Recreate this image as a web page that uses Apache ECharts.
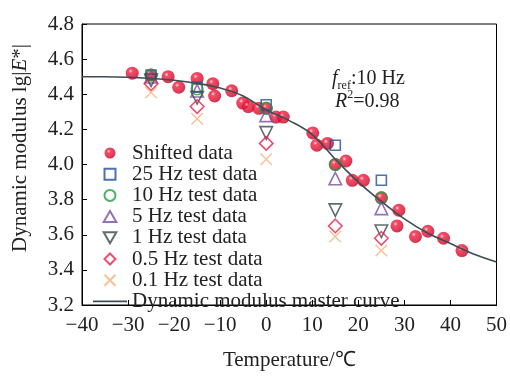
<!DOCTYPE html>
<html>
<head>
<meta charset="utf-8">
<script src="https://cdn.jsdelivr.net/npm/echarts@6/dist/echarts.min.js"></script>
<style>
  html, body { margin: 0; padding: 0; background: #fff; }
  #chart { width: 510px; height: 376px; }
</style>
</head>
<body>
<div id="chart"></div>
<script>
// Test temperatures (°C) at which every frequency was measured
const testTemps = [-25, -15, 0, 15, 25];

// Dynamic modulus lg|E*| per test frequency
const hz25 = [4.51, 4.44, 4.34, 4.11, 3.91];
const hz10 = [4.51, 4.43, 4.32, 4.00, 3.81];
const hz5 = [4.50, 4.42, 4.28, 3.92, 3.75];
const hz1 = [4.48, 4.38, 4.18, 3.74, 3.62];
const hz05 = [4.46, 4.33, 4.12, 3.65, 3.58];
const hz01 = [4.41, 4.26, 4.03, 3.59, 3.51];

// Data shifted to the 10 Hz reference frequency
const shiftedTemps = [-29.1, -25, -21.3, -19.0, -15.0, -11.6, -11.2, -7.5, -5.1, -3.9, -1.6, 0, 2.1, 3.7,
  10.1, 11.0, 13.3, 15, 17.3, 18.7, 21.1, 25, 28.8, 28.4, 32.4, 35.1, 38.5, 42.5];
const shiftedModulus = [4.52, 4.51, 4.50, 4.44, 4.49, 4.46, 4.39, 4.42, 4.35, 4.33, 4.32, 4.32, 4.27, 4.27,
  4.18, 4.11, 4.12, 4.00, 4.02, 3.91, 3.91, 3.81, 3.74, 3.65, 3.59, 3.62, 3.58, 3.51];

// Fitted master curve
const curveTemps = [-40, -35, -30, -25, -20, -15, -10, -5, 0, 5, 10, 15, 20, 25, 30, 35, 40, 45, 50];
const curveModulus = [4.50, 4.50, 4.497, 4.49, 4.48, 4.462, 4.435, 4.39, 4.31, 4.25, 4.17, 4.03, 3.90,
  3.79, 3.69, 3.61, 3.55, 3.49, 3.445];

// Axis ticks
const xTicks = { min: -40, max: 50, step: 10 };
const yTicks = { min: 3.2, max: 4.8, step: 0.2 };

const FONT = 'Liberation Serif';
const INK = '#222';
const CURVE = '#404c54';
const zip = (xs, ys) => xs.map((x, i) => [x, ys[i]]);

const SYM = {
  circle: 'path://M12,6A6,6,0,1,1,0,6A6,6,0,1,1,12,6Z',
  square: 'path://M0,0L12,0L12,12L0,12Z',
  up: 'path://M6,0L12,10.4L0,10.4Z',
  down: 'path://M0,0L12,0L6,10.4Z',
  diamond: 'path://M6,0L12,6L6,12L0,6Z',
  cross: 'path://M0,0L12,12M12,0L0,12',
  bar: 'path://M0,0L34,0L34,1.6L0,1.6Z'
};

const sphere = {
  type: 'radial', x: 0.38, y: 0.34, r: 0.72,
  colorStops: [
    { offset: 0, color: '#ffd0d8' },
    { offset: 0.22, color: '#f0203f' },
    { offset: 0.75, color: '#d8082c' },
    { offset: 1, color: '#a8001a' }
  ]
};

function openSeries(name, data, symbol, size, color, width) {
  return {
    name, type: 'scatter', data: zip(testTemps, data), symbol, symbolSize: size,
    itemStyle: { color: 'none', borderColor: color, borderWidth: width || 1.6 },
    emphasis: { disabled: true }
  };
}

const chart = echarts.init(document.getElementById('chart'), null, { renderer: 'canvas' });
chart.setOption({
  animation: false,
  backgroundColor: '#fff',
  grid: { left: 82, right: 12, top: 24, bottom: 63, show: true, borderColor: '#000', borderWidth: 1, backgroundColor: 'transparent' },
  xAxis: {
    type: 'value', min: xTicks.min, max: xTicks.max, interval: xTicks.step,
    axisLine: { onZero: false, lineStyle: { color: '#000', width: 1 } },
    axisTick: { inside: true, length: 5, lineStyle: { color: '#000' } },
    splitLine: { show: false },
    axisLabel: {
      margin: 10, color: INK, fontFamily: FONT, fontSize: 21,
      formatter: v => (v < 0 ? '\u2212' + Math.abs(v) : String(v))
    },
    name: 'Temperature/\u2103', nameLocation: 'middle', nameGap: 45,
    nameTextStyle: { color: INK, fontFamily: FONT, fontSize: 21 }
  },
  yAxis: {
    type: 'value', min: yTicks.min, max: yTicks.max, interval: yTicks.step,
    axisLine: { onZero: false, lineStyle: { color: '#000', width: 1 } },
    axisTick: { inside: true, length: 5, lineStyle: { color: '#000' } },
    splitLine: { show: false },
    axisLabel: { margin: 8, color: INK, fontFamily: FONT, fontSize: 21, formatter: v => v.toFixed(1) }
  },
  legend: {
    orient: 'vertical', left: 93, top: 142.5, padding: 0, itemWidth: 34, itemHeight: 11, itemGap: 0.2,
    selectedMode: false,
    textStyle: { color: INK, fontFamily: FONT, fontSize: 21, lineHeight: 21 },
    data: ['Shifted data', '25 Hz test data', '10 Hz test data', '5 Hz test data', '1 Hz test data',
      '0.5 Hz test data', '0.1 Hz test data',
      { name: 'Dynamic modulus master curve', icon: SYM.bar, itemStyle: { color: CURVE } }]
  },
  series: [
    {
      name: 'Shifted data', type: 'scatter', data: zip(shiftedTemps, shiftedModulus),
      symbol: SYM.circle, symbolSize: 13, itemStyle: { color: sphere }, emphasis: { disabled: true }
    },
    openSeries('25 Hz test data', hz25, SYM.square, 10, '#1f4f9e'),
    openSeries('10 Hz test data', hz10, SYM.circle, 11.5, '#20a040'),
    openSeries('5 Hz test data', hz5, SYM.up, 12.5, '#7a4ea2'),
    openSeries('1 Hz test data', hz1, SYM.down, 12.5, '#3c474e'),
    openSeries('0.5 Hz test data', hz05, SYM.diamond, 13.5, '#e8204a'),
    openSeries('0.1 Hz test data', hz01, SYM.cross, 11.5, '#f6b07c', 1.4),
    {
      name: 'Dynamic modulus master curve', type: 'line', data: zip(curveTemps, curveModulus),
      smooth: 0.4, symbol: 'none', itemStyle: { color: CURVE }, lineStyle: { color: CURVE, width: 1.6 }, z: 3
    }
  ],
  graphic: [
    {
      type: 'text', x: 20, y: 148, rotation: Math.PI / 2,
      style: {
        text: 'Dynamic modulus lg|{i|E}*|', fontFamily: FONT, fontSize: 21, fill: INK,
        align: 'center', verticalAlign: 'middle',
        rich: { i: { fontStyle: 'italic', fontFamily: FONT, fontSize: 21, fill: INK } }
      }
    },
    {
      type: 'text', x: 332, y: 79,
      style: {
        text: '{i|f}{s|ref}{n|:10 Hz}', fontFamily: FONT, fontSize: 20, fill: INK,
        verticalAlign: 'middle',
        rich: {
          i: { fontStyle: 'italic', fontFamily: FONT, fontSize: 20, lineHeight: 26, fill: INK },
          s: { fontFamily: FONT, fontSize: 12, lineHeight: 12, verticalAlign: 'bottom', fill: INK },
          n: { fontFamily: FONT, fontSize: 20, lineHeight: 26, fill: INK }
        }
      }
    },
    {
      type: 'text', x: 335, y: 102,
      style: {
        text: '{i|R}{p|2}{n|=0.98}', fontFamily: FONT, fontSize: 20, fill: INK,
        verticalAlign: 'middle',
        rich: {
          i: { fontStyle: 'italic', fontFamily: FONT, fontSize: 20, lineHeight: 26, fill: INK },
          p: { fontFamily: FONT, fontSize: 12, lineHeight: 12, verticalAlign: 'top', fill: INK },
          n: { fontFamily: FONT, fontSize: 20, lineHeight: 26, fill: INK }
        }
      }
    }
  ]
});
</script>
</body>
</html>
